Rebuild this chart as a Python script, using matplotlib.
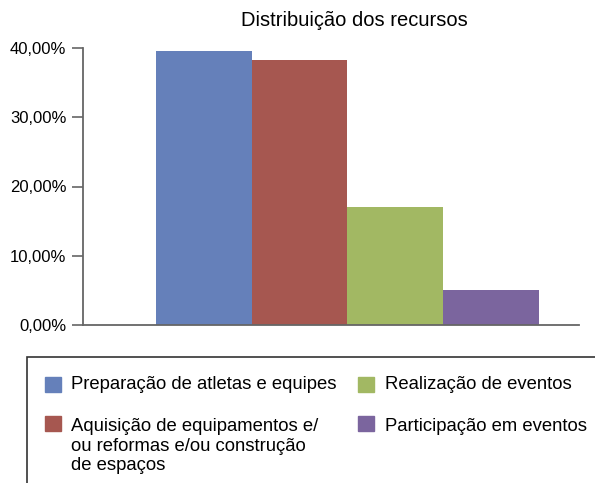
import matplotlib.pyplot as plt
from matplotlib.patches import Rectangle

plt.rcParams["font.family"] = ["Liberation Sans", "DejaVu Sans"]

# Data
categories = [
    "Preparação de atletas e equipes",
    "Aquisição de equipamentos e/\nou reformas e/ou construção\nde espaços",
    "Realização de eventos",
    "Participação em eventos",
]
shares = [39.6, 38.3, 17.0, 5.1]
colors = ["#6580BA", "#A65750", "#A2B863", "#7B659E"]
yticks = [0, 10, 20, 30, 40]
ytick_labels = ["0,00%", "10,00%", "20,00%", "30,00%", "40,00%"]

W, H = 595, 483
fig = plt.figure(figsize=(W / 100, H / 100), dpi=100)

# axes box in pixel terms: left 83, right 579, top 48, bottom 325
ax = fig.add_axes([83 / W, (H - 325) / H, (579 - 83) / W, (325 - 48) / H])
x = list(range(len(shares)))
ax.bar(x, shares, width=1.0, color=colors, edgecolor="none")
ax.set_xlim(-1.26, 3.92)
ax.set_ylim(0, 40)
ax.set_yticks(yticks)
ax.set_yticklabels(ytick_labels, fontsize=12)
ax.set_xticks([])
for side in ["top", "right"]:
    ax.spines[side].set_visible(False)
for side in ["left", "bottom"]:
    ax.spines[side].set_color("#666666")
    ax.spines[side].set_linewidth(1.3)
ax.tick_params(axis="y", direction="out", length=8, width=1.2, color="#666666", pad=4)

fig.text(354 / W, 1 - 20 / H, "Distribuição dos recursos", ha="center", va="center", fontsize=14.5)

# legend box (runs off the right and bottom edges)
fig.patches.append(Rectangle((27 / W, -0.05), 0.99, (H - 357) / H + 0.05,
                             transform=fig.transFigure, fill=False,
                             edgecolor="#333333", linewidth=1.2))

# (patch left, patch top, text left, text top) in pixels
legend_pos = [(45, 377, 71, 376), (45, 416, 71, 418),
              (358, 377, 385, 376), (358, 416, 385, 418)]
for (px, py, tx, ty), label, c in zip(legend_pos, categories, colors):
    fig.patches.append(Rectangle((px / W, 1 - (py + 15) / H), 16 / W, 15 / H,
                                 transform=fig.transFigure, color=c))
    fig.text(tx / W, 1 - ty / H, label, ha="left", va="top",
             fontsize=13.3, linespacing=1.2)

fig.savefig("out.png", dpi=100)
